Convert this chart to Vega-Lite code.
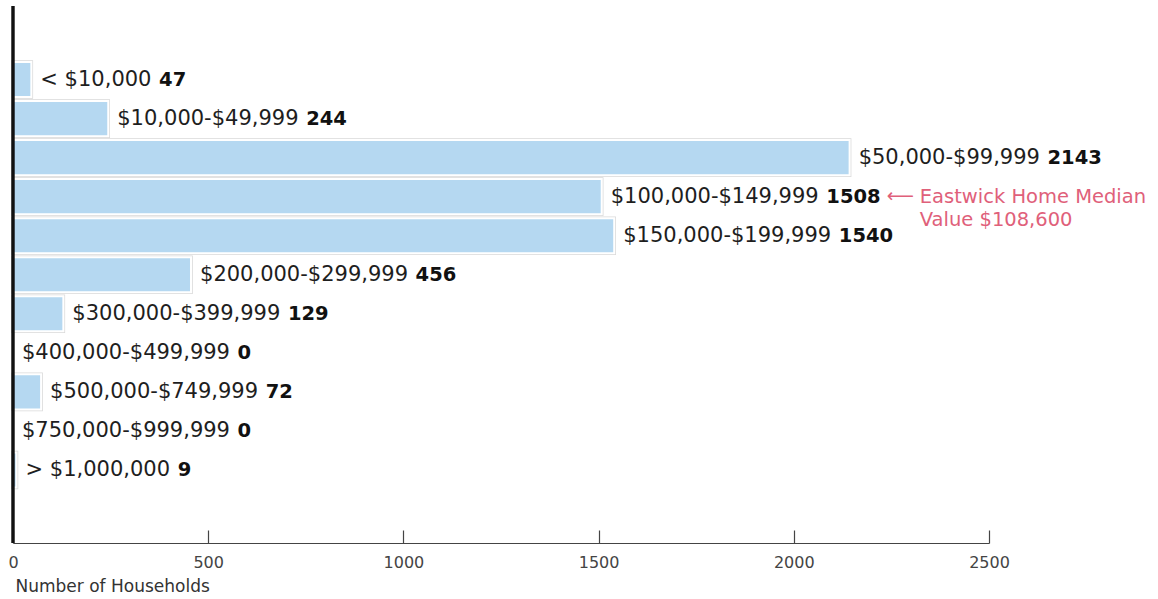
{
  "$schema": "https://vega.github.io/schema/vega-lite/v6.json",
  "width": 976,
  "height": 537,
  "autosize": {"type": "none"},
  "padding": {"left": 13, "top": 6, "right": 169, "bottom": 50},
  "config": {"view": {"stroke": null}, "font": "DejaVu Sans"},
  "data": {"values": [
    {"label": "< $10,000", "value": 47},
    {"label": "$10,000-$49,999", "value": 244},
    {"label": "$50,000-$99,999", "value": 2143},
    {"label": "$100,000-$149,999", "value": 1508},
    {"label": "$150,000-$199,999", "value": 1540},
    {"label": "$200,000-$299,999", "value": 456},
    {"label": "$300,000-$399,999", "value": 129},
    {"label": "$400,000-$499,999", "value": 0},
    {"label": "$500,000-$749,999", "value": 72},
    {"label": "$750,000-$999,999", "value": 0},
    {"label": "> $1,000,000", "value": 9}
  ]},
  "encoding": {
    "x": {"field": "value", "type": "quantitative",
      "scale": {"domain": [0, 2500], "nice": false},
      "axis": {"title": "Number of Households", "values": [0, 500, 1000, 1500, 2000, 2500], "format": "d",
        "grid": false, "domainColor": "#444", "domainWidth": 1.2, "tickColor": "#444", "tickWidth": 1.2,
        "tickSize": -13, "labelPadding": 24, "labelColor": "#444", "labelFontSize": 16, "labelFlush": false,
        "titleFontSize": 17, "titleFontWeight": "normal", "titleColor": "#333", "titleAnchor": "start",
        "titleAlign": "left", "titleX": 2, "titleY": 48, "titleBaseline": "alphabetic"}}
  },
  "layer": [
    {"transform": [{"filter": "datum.value > 0"}],
     "mark": {"type": "bar", "fill": "#ffffff", "stroke": "#d9d9d9", "strokeWidth": 3.5},
     "encoding": {"y": {"field": "label", "type": "nominal",
       "scale": {"domain": ["< $10,000", "$10,000-$49,999", "$50,000-$99,999", "$100,000-$149,999", "$150,000-$199,999", "$200,000-$299,999", "$300,000-$399,999", "$400,000-$499,999", "$500,000-$749,999", "$750,000-$999,999", "> $1,000,000"],
         "range": [54, 483.5], "paddingInner": 0.1, "paddingOuter": 0.05}, "axis": null}}},
    {"transform": [{"filter": "datum.value > 0"}],
     "mark": {"type": "bar", "fill": "#b5d8f1", "stroke": "#ffffff", "strokeWidth": 2},
     "encoding": {"y": {"field": "label", "type": "nominal", "axis": null}}},
    {"mark": {"type": "text", "align": "left", "baseline": "middle", "dx": 9, "fontSize": 21, "fill": "#1e1e1e"},
     "encoding": {"y": {"field": "label", "type": "nominal", "axis": null}, "text": {"field": "label"}}},
    {"mark": {"type": "text", "align": "left", "baseline": "middle", "fontSize": 19.5, "fontWeight": "bold", "fill": "#111",
       "dx": {"expr": "10 + 21*(0.636*length(replace(datum.label, regexp('[^0-9$]','g'), '')) + 0.318*length(replace(datum.label, regexp('[^, ]','g'), '')) + 0.361*length(replace(datum.label, regexp('[^-]','g'), '')) + 0.838*length(replace(datum.label, regexp('[^<>]','g'), '')) + 0.318)"}},
     "encoding": {"y": {"field": "label", "type": "nominal", "axis": null}, "text": {"field": "value"}}},
    {"transform": [{"filter": "datum.value == 1508"}],
     "mark": {"type": "text", "align": "left", "baseline": "middle", "dx": 285, "dy": -1, "fontSize": 19, "fill": "#e0607a", "text": "⟵"},
     "encoding": {"y": {"field": "label", "type": "nominal", "axis": null}}},
    {"transform": [{"filter": "datum.value == 1508"}],
     "mark": {"type": "text", "align": "left", "baseline": "alphabetic", "dx": 318, "dy": 6, "fontSize": 19.5, "lineHeight": 23, "fill": "#e0607a",
       "text": ["Eastwick Home Median", "Value $108,600"]},
     "encoding": {"y": {"field": "label", "type": "nominal", "axis": null}}},
    {"mark": {"type": "rule", "color": "#111", "strokeWidth": 2.2},
     "encoding": {"x": {"datum": 0}}}
  ]
}
